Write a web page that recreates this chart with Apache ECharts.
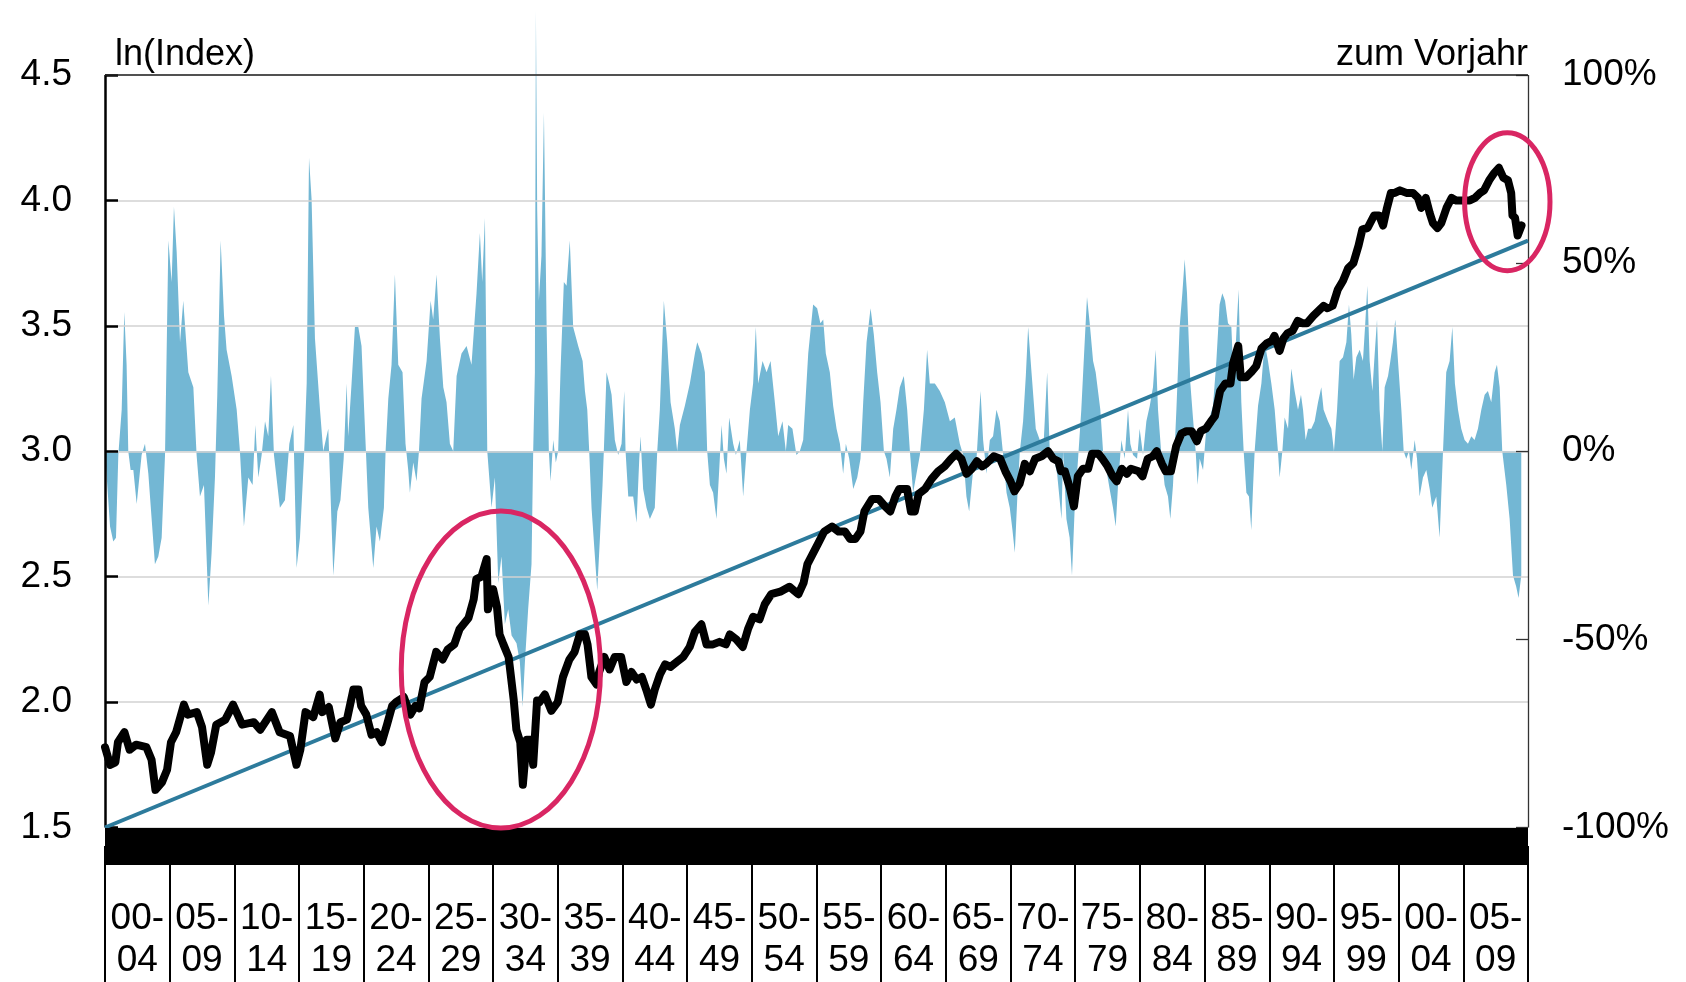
<!DOCTYPE html>
<html>
<head>
<meta charset="utf-8">
<script src="https://cdn.jsdelivr.net/npm/echarts@6/dist/echarts.min.js"></script>
<style>
html,body{margin:0;padding:0;background:#fff;}
#chart{width:1686px;height:982px;}
</style>
</head>
<body>
<div id="chart"></div>
<script>
// ---- Data ----
const periodLabels = ['00-\n04','05-\n09','10-\n14','15-\n19','20-\n24','25-\n29','30-\n34','35-\n39','40-\n44','45-\n49','50-\n54','55-\n59','60-\n64','65-\n69','70-\n74','75-\n79','80-\n84','85-\n89','90-\n94','95-\n99','00-\n04','05-\n09'];

const leftTicks = [1.5, 4.5, 0.5];     // min, max, step of ln(Index) axis
const rightTicks = [-100, 100, 50];    // min, max, step of % axis

const lnYears = [1900.0,1900.4,1900.8,1901.0,1901.5,1901.9,1902.4,1903.2,1903.6,1903.9,1904.4,1904.8,1905.1,1905.5,1906.1,1906.4,1907.1,1907.5,1907.9,1908.2,1908.6,1909.3,1909.9,1910.6,1911.5,1912.0,1912.9,1913.5,1914.3,1914.8,1915.1,1915.5,1916.1,1916.6,1916.8,1917.3,1917.8,1918.2,1918.7,1919.2,1919.6,1919.8,1920.2,1920.6,1921.0,1921.4,1921.8,1922.2,1922.5,1923.1,1923.6,1924.0,1924.3,1924.7,1925.1,1925.6,1926.1,1926.5,1927.0,1927.4,1928.1,1928.5,1928.7,1929.1,1929.5,1929.6,1930.0,1930.3,1930.5,1930.8,1931.2,1931.6,1931.8,1932.1,1932.3,1932.6,1932.9,1933.1,1933.4,1933.6,1934.0,1934.5,1935.0,1935.4,1935.9,1936.3,1936.7,1937.1,1937.3,1937.6,1938.0,1938.2,1938.6,1939.0,1939.4,1939.9,1940.3,1940.7,1941.1,1941.5,1941.9,1942.2,1942.5,1942.9,1943.3,1943.7,1944.2,1944.7,1945.2,1945.6,1946.1,1946.5,1947.0,1947.5,1948.0,1948.3,1948.8,1949.3,1949.7,1950.1,1950.6,1951.0,1951.5,1952.2,1952.9,1953.6,1954.0,1954.3,1954.7,1955.1,1955.6,1956.2,1956.7,1957.2,1957.6,1958.0,1958.4,1958.7,1959.3,1959.8,1960.3,1960.7,1961.1,1961.4,1962.0,1962.3,1962.6,1962.9,1963.4,1963.9,1964.4,1964.9,1965.4,1965.8,1966.2,1966.6,1967.0,1967.4,1967.8,1968.1,1968.7,1969.2,1969.6,1970.0,1970.3,1970.7,1971.1,1971.5,1971.9,1972.4,1972.9,1973.3,1973.7,1973.9,1974.2,1974.6,1974.9,1975.2,1975.6,1976.0,1976.3,1976.8,1977.1,1977.5,1977.9,1978.2,1978.6,1979.0,1979.3,1979.9,1980.2,1980.6,1981.0,1981.3,1981.7,1982.0,1982.4,1982.8,1983.2,1983.6,1984.0,1984.4,1984.7,1985.1,1985.5,1985.8,1986.2,1986.6,1987.0,1987.2,1987.6,1987.8,1988.2,1988.6,1989.0,1989.4,1989.8,1990.2,1990.4,1990.8,1991.1,1991.4,1991.8,1992.2,1992.6,1992.9,1993.4,1993.8,1994.2,1994.5,1994.9,1995.3,1995.7,1996.1,1996.5,1996.9,1997.2,1997.6,1998.1,1998.5,1998.8,1999.1,1999.4,1999.7,2000.1,2000.6,2001.1,2001.5,2001.75,2002.1,2002.4,2002.65,2003.0,2003.3,2003.7,2004.1,2004.45,2005.0,2005.5,2005.9,2006.3,2006.6,2007.0,2007.4,2007.75,2008.1,2008.45,2008.7,2008.8,2009.0,2009.2,2009.5];
const lnValues = [1.82,1.75,1.76,1.84,1.88,1.81,1.83,1.82,1.77,1.65,1.68,1.73,1.84,1.88,1.99,1.95,1.96,1.90,1.75,1.80,1.91,1.93,1.99,1.91,1.92,1.89,1.96,1.88,1.865,1.75,1.81,1.96,1.94,2.03,1.96,1.98,1.855,1.92,1.93,2.05,2.05,1.985,1.95,1.87,1.88,1.84,1.91,1.985,2.00,2.02,1.95,1.985,1.975,2.08,2.10,2.20,2.17,2.21,2.23,2.29,2.335,2.41,2.49,2.50,2.57,2.37,2.45,2.38,2.27,2.23,2.18,2.006,1.89,1.84,1.67,1.85,1.85,1.75,2.006,2.00,2.03,1.965,2.00,2.10,2.17,2.20,2.27,2.27,2.23,2.10,2.07,2.12,2.18,2.13,2.18,2.18,2.08,2.12,2.09,2.10,2.04,1.99,2.05,2.11,2.15,2.14,2.16,2.18,2.22,2.28,2.31,2.23,2.23,2.24,2.23,2.27,2.25,2.22,2.29,2.34,2.33,2.39,2.43,2.44,2.46,2.43,2.475,2.55,2.59,2.63,2.68,2.70,2.68,2.68,2.65,2.65,2.68,2.76,2.81,2.81,2.78,2.76,2.82,2.85,2.85,2.76,2.76,2.83,2.85,2.89,2.92,2.94,2.97,2.99,2.97,2.91,2.93,2.96,2.94,2.95,2.98,2.97,2.92,2.88,2.84,2.87,2.95,2.92,2.97,2.98,3.00,2.97,2.96,2.92,2.92,2.85,2.78,2.90,2.93,2.93,2.99,2.99,2.97,2.94,2.90,2.88,2.93,2.91,2.93,2.92,2.90,2.97,2.98,3.00,2.95,2.92,2.92,3.02,3.07,3.08,3.08,3.04,3.08,3.09,3.12,3.14,3.24,3.27,3.27,3.35,3.42,3.295,3.295,3.315,3.34,3.41,3.43,3.44,3.46,3.40,3.45,3.47,3.48,3.52,3.51,3.51,3.54,3.56,3.58,3.57,3.58,3.645,3.68,3.73,3.75,3.82,3.885,3.89,3.94,3.94,3.90,3.97,4.03,4.03,4.04,4.03,4.03,4.01,3.97,4.01,3.95,3.91,3.89,3.91,3.97,4.01,4.00,4.00,4.00,4.01,4.03,4.04,4.08,4.11,4.13,4.09,4.08,4.03,3.94,3.93,3.86,3.90];

const yoyYears = [1900.0,1900.39,1900.64,1900.85,1901.03,1901.29,1901.49,1901.67,1901.8,1901.98,1902.19,1902.45,1902.83,1903.09,1903.35,1903.86,1904.12,1904.38,1904.64,1904.9,1905.15,1905.33,1905.54,1905.8,1906.05,1906.44,1906.83,1907.08,1907.34,1907.65,1907.99,1908.24,1908.5,1908.68,1908.94,1909.2,1909.4,1909.79,1910.18,1910.43,1910.74,1911.08,1911.41,1911.62,1911.85,1912.11,1912.37,1912.62,1912.83,1913.06,1913.52,1913.91,1914.25,1914.56,1914.81,1915.07,1915.38,1915.59,1915.77,1915.97,1916.23,1916.62,1916.87,1917.26,1917.65,1917.96,1918.2,1918.45,1918.68,1918.8,1919.06,1919.32,1919.58,1919.83,1920.01,1920.17,1920.35,1920.74,1920.99,1921.25,1921.56,1921.69,1921.9,1922.15,1922.41,1922.67,1923.0,1923.23,1923.44,1923.57,1923.83,1924.08,1924.27,1924.47,1924.86,1925.17,1925.37,1925.63,1925.89,1926.15,1926.4,1926.66,1926.92,1927.18,1927.56,1927.95,1928.33,1928.72,1928.98,1929.16,1929.37,1929.55,1929.88,1930.14,1930.4,1930.65,1930.91,1931.17,1931.43,1931.81,1932.07,1932.28,1932.46,1932.71,1932.97,1933.1,1933.23,1933.31,1933.41,1933.54,1933.74,1933.93,1934.13,1934.31,1934.44,1934.65,1934.85,1935.03,1935.21,1935.47,1935.68,1935.93,1936.19,1936.58,1936.92,1937.1,1937.28,1937.43,1937.61,1937.87,1938.05,1938.26,1938.46,1938.56,1938.77,1938.98,1939.16,1939.41,1939.67,1939.93,1940.14,1940.24,1940.45,1940.83,1941.09,1941.3,1941.4,1941.6,1941.86,1942.12,1942.5,1942.69,1942.89,1943.2,1943.46,1943.72,1944.05,1944.23,1944.44,1944.82,1945.21,1945.6,1945.78,1946.11,1946.37,1946.55,1946.76,1947.01,1947.27,1947.48,1947.66,1947.84,1948.04,1948.25,1948.56,1948.77,1949.07,1949.33,1949.59,1949.85,1950.1,1950.31,1950.49,1950.83,1951.14,1951.45,1951.78,1952.04,1952.37,1952.63,1952.81,1953.14,1953.45,1953.71,1953.97,1954.36,1954.74,1955.05,1955.3,1955.52,1955.72,1956.03,1956.29,1956.55,1956.81,1957.06,1957.27,1957.53,1957.84,1958.15,1958.4,1958.61,1958.87,1959.18,1959.43,1959.69,1959.95,1960.21,1960.41,1960.67,1960.93,1961.18,1961.44,1961.75,1962.01,1962.22,1962.47,1962.73,1962.99,1963.3,1963.55,1963.76,1964.15,1964.53,1964.92,1965.31,1965.69,1966.08,1966.34,1966.59,1966.8,1967.11,1967.37,1967.68,1967.88,1968.14,1968.4,1968.65,1968.91,1969.17,1969.43,1969.69,1969.94,1970.15,1970.33,1970.54,1970.72,1970.97,1971.18,1971.36,1971.62,1971.95,1972.26,1972.57,1972.83,1973.03,1973.29,1973.6,1973.94,1974.06,1974.32,1974.57,1974.75,1974.96,1975.22,1975.47,1975.73,1975.91,1976.12,1976.38,1976.58,1976.76,1976.94,1977.15,1977.41,1977.66,1977.92,1978.13,1978.31,1978.57,1978.82,1979.08,1979.26,1979.47,1979.78,1979.98,1980.24,1980.5,1980.76,1981.01,1981.22,1981.4,1981.66,1981.91,1982.17,1982.35,1982.56,1982.82,1983.07,1983.28,1983.46,1983.64,1983.9,1984.1,1984.31,1984.46,1984.62,1984.88,1985.13,1985.39,1985.65,1985.91,1986.16,1986.37,1986.58,1986.81,1987.07,1987.25,1987.45,1987.63,1987.84,1988.02,1988.23,1988.43,1988.61,1988.74,1988.87,1989.13,1989.39,1989.64,1989.9,1990.16,1990.42,1990.67,1990.8,1991.01,1991.19,1991.45,1991.7,1991.96,1992.22,1992.45,1992.61,1992.81,1993.0,1993.25,1993.51,1993.77,1994.02,1994.2,1994.54,1994.8,1995.0,1995.24,1995.44,1995.7,1995.96,1996.16,1996.34,1996.52,1996.73,1996.99,1997.24,1997.42,1997.58,1997.76,1997.97,1998.15,1998.33,1998.53,1998.74,1998.92,1999.18,1999.36,1999.56,1999.74,1999.95,2000.21,2000.39,2000.59,2000.8,2000.98,2001.24,2001.42,2001.62,2001.88,2002.14,2002.4,2002.6,2002.91,2003.17,2003.43,2003.68,2003.94,2004.15,2004.35,2004.59,2004.84,2005.1,2005.36,2005.62,2005.87,2006.13,2006.39,2006.65,2006.9,2007.16,2007.42,2007.6,2007.81,2008.01,2008.32,2008.58,2008.84,2009.09,2009.27,2009.48];
const yoyValues = [0,-20,-24,-23,-1,11,37,23,0,-5,-5,-14,-1,2,-6,-30,-28,-23,-1,56,45,65,53,29,40,21,17,-1,-12,-9,-41,-27,-7,15,56,36,27,20,11,0,-20,-7,-9,7,-7,-1,8,4,20,-1,-15,-13,2,7,-31,-23,-2,18,78,67,30,11,0,6,-33,-16,-13,-2,18,4,18,33,33,28,13,0,-15,-31,-20,-24,-15,0,14,23,47,23,21,2,-5,-11,-3,-8,0,14,24,40,35,47,30,17,13,2,0,20,26,28,23,42,58,45,62,0,-15,-7,-35,-28,-46,-42,-49,-51,-56,-68,-56,-42,-30,0,21,117,64,40,52,90,35,0,-8,3,-3,0,21,45,44,56,33,28,24,16,11,0,-15,-28,-37,-23,-9,0,21,18,15,3,-1,2,16,0,-12,-12,-19,-2,4,-10,-15,-18,-15,0,11,40,29,13,6,0,7,12,18,26,29,26,21,0,-9,-11,-18,-5,7,-2,-6,9,2,-1,3,-12,0,11,18,33,18,24,21,24,13,4,8,0,7,6,-1,0,3,26,39,38,34,35,26,21,12,6,2,-6,2,-2,-10,-7,-2,13,29,38,31,21,13,0,-2,-7,6,11,17,20,11,0,-11,-6,-1,11,27,18,18,16,13,8,9,2,-1,-12,-16,-5,-2,16,3,-6,3,4,11,8,-1,-11,-15,-21,-27,-11,0,8,20,33,21,6,3,3,21,0,-1,-6,-18,0,-18,-23,-33,-15,-2,11,29,41,34,24,21,16,11,0,-5,-10,-15,-20,-9,3,-2,11,2,-1,-2,6,-1,8,12,17,27,11,-1,-9,-12,-18,-9,11,33,42,51,42,18,9,0,-9,-2,-5,6,9,12,24,39,42,40,34,33,18,31,43,13,0,-11,-12,-21,-10,0,12,18,29,24,18,11,0,-7,0,9,6,22,16,11,15,11,3,6,6,8,13,17,11,8,6,0,11,24,25,29,39,31,19,25,27,24,34,44,24,16,26,35,11,0,17,20,24,29,35,24,11,0,-2,0,-5,3,-2,-12,-7,-5,-10,-15,-12,-23,0,21,24,33,18,11,6,3,2,4,3,6,11,15,16,13,21,23,17,0,-9,-18,-33,-36,-39,-33];

const trendYears = [1900, 2010];
const trendValues = [1.5, 3.84];

// highlighted regions (data coordinates: centre year/value and half-extents)
const highlights = [
  {year: 1930.6, value: 2.13, halfYears: 7.7, halfValue: 0.632},
  {year: 2008.4, value: 3.995, halfYears: 3.3, halfValue: 0.275}
];

// ---- Chart ----
const FONT = "'Liberation Sans', Arial, sans-serif";
const zip = (xs, ys) => xs.map((x, i) => [x, ys[i]]);

const chart = echarts.init(document.getElementById('chart'), null, {renderer: 'canvas'});
const option = {
  animation: false,
  backgroundColor: '#ffffff',
  textStyle: {fontFamily: FONT, color: '#000'},
  grid: {left: 105, right: 158, top: 75, bottom: 152, containLabel: false},
  xAxis: [
    {type: 'value', min: 1900, max: 2010, show: true,
     axisLine: {show: false}, axisTick: {show: false}, axisLabel: {show: false}, splitLine: {show: false}},
    {type: 'category', data: periodLabels, position: 'bottom', offset: 18.5, boundaryGap: true, z: 6,
     axisLine: {show: true, lineStyle: {color: '#000', width: 37, cap: 'butt'}},
     axisTick: {show: true, interval: 0, length: 140, lineStyle: {color: '#000', width: 2, cap: 'butt'}},
     axisLabel: {interval: 0, fontSize: 37, lineHeight: 42, margin: 52, color: '#000', fontFamily: FONT}},
    {type: 'value', min: 1900, max: 2010, position: 'top', z: 6,
     axisLine: {show: true, lineStyle: {color: '#222', width: 1.5, cap: 'butt'}},
     axisTick: {show: false}, axisLabel: {show: false}, splitLine: {show: false}}
  ],
  yAxis: [
    {type: 'value', min: leftTicks[0], max: leftTicks[1], interval: leftTicks[2], position: 'left', z: 3,
     name: 'ln(Index)', nameLocation: 'end', nameGap: 2,
     nameTextStyle: {fontSize: 36, color: '#000', align: 'left', verticalAlign: 'bottom', padding: [0, 0, 0, 10], fontFamily: FONT},
     axisLine: {show: true, lineStyle: {color: '#000', width: 2.5, cap: 'butt'}},
     axisTick: {show: true, inside: true, length: 13, lineStyle: {color: '#000', width: 2.5}},
     axisLabel: {fontSize: 37, margin: 33, color: '#000', fontFamily: FONT, formatter: v => v.toFixed(1)},
     splitLine: {show: true, lineStyle: {color: '#d2d2d2', width: 1.5}}},
    {type: 'value', min: rightTicks[0], max: rightTicks[1], interval: rightTicks[2], position: 'right', z: 3,
     name: 'zum Vorjahr', nameLocation: 'end', nameGap: 2,
     nameTextStyle: {fontSize: 36, color: '#000', align: 'right', verticalAlign: 'bottom', fontFamily: FONT},
     axisLine: {show: true, lineStyle: {color: '#333', width: 1.3, cap: 'butt'}},
     axisTick: {show: true, inside: true, length: 12, lineStyle: {color: '#333', width: 1.3}},
     axisLabel: {fontSize: 37, margin: 34, color: '#000', fontFamily: FONT, formatter: '{value}%'},
     splitLine: {show: false}}
  ],
  series: [
    {name: 'Veränderung zum Vorjahr', type: 'line', xAxisIndex: 0, yAxisIndex: 1,
     data: zip(yoyYears, yoyValues), symbol: 'none', clip: false, z: 2,
     lineStyle: {width: 0, opacity: 0},
     areaStyle: {color: '#73b7d4', opacity: 1}},
    {name: 'Trend', type: 'line', xAxisIndex: 0, yAxisIndex: 0,
     data: zip(trendYears, trendValues), symbol: 'none', z: 4,
     lineStyle: {color: '#2d7b9c', width: 4}},
    {name: 'ln(Index)', type: 'line', xAxisIndex: 0, yAxisIndex: 0,
     data: zip(lnYears, lnValues), symbol: 'none', z: 5,
     lineStyle: {color: '#000', width: 8, join: 'round', cap: 'round'}}
  ]
};
chart.setOption(option);

function drawHighlights() {
  const g = highlights.map(h => {
    const c = chart.convertToPixel({xAxisIndex: 0, yAxisIndex: 0}, [h.year, h.value]);
    const e = chart.convertToPixel({xAxisIndex: 0, yAxisIndex: 0}, [h.year + h.halfYears, h.value + h.halfValue]);
    return {type: 'ellipse', z: 100,
            shape: {cx: c[0], cy: c[1], rx: Math.abs(e[0] - c[0]), ry: Math.abs(c[1] - e[1])},
            style: {fill: null, stroke: '#d92663', lineWidth: 5}};
  });
  chart.setOption({graphic: g});
}
drawHighlights();
</script>
</body>
</html>
